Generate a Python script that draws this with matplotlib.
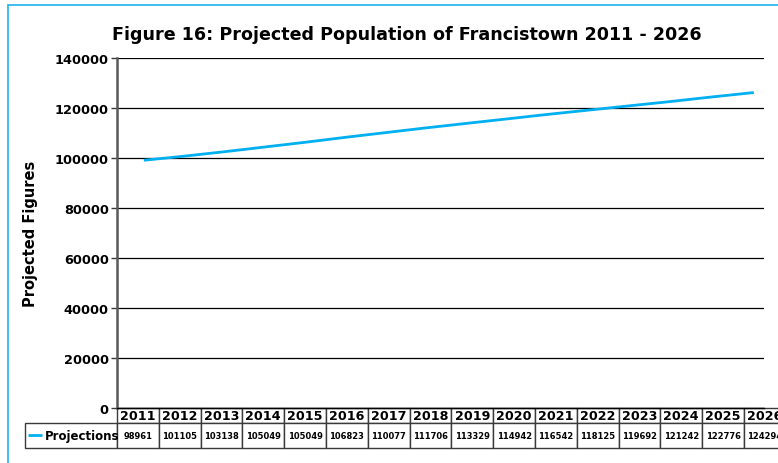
"""
Projected population of Francistown 2011 - 2026, line chart with data table.
"""

import matplotlib

matplotlib.use("Agg")

import matplotlib.pyplot as plt
from matplotlib.patches import Rectangle

# categories and values
YEARS = ["2011", "2012", "2013", "2014", "2015", "2016", "2017", "2018",
         "2019", "2020", "2021", "2022", "2023", "2024", "2025", "2026"]

# numbers printed in the data table
TABLE_VALUES = [98961, 101105, 103138, 105049, 105049, 106823, 110077, 111706,
                113329, 114942, 116542, 118125, 119692, 121242, 122776, 124294]

# the plotted line (it does not follow the table exactly)
LINE_VALUES = [98960, 100600, 102400, 104300, 106200, 108200, 110100, 112000,
               113800, 115600, 117400, 119100, 120800, 122500, 124300, 126000]

Y_TICKS = [0, 20000, 40000, 60000, 80000, 100000, 120000, 140000]

SERIES_NAME = "Projections"
TITLE = "Figure 16: Projected Population of Francistown 2011 - 2026"
Y_LABEL = "Projected Figures"

LINE_COLOR = "#00B0F0"
FRAME_COLOR = "#1DB2EE"
EDGE_COLOR = "#3A3A3A"
FONT = "DejaVu Sans"

W, H = 778, 464
DPI = 100


def px_x(x):
    return x / W


def px_y(y):
    return 1 - y / H


def main():
    plt.rcParams["font.family"] = FONT

    fig = plt.figure(figsize=(W / DPI, H / DPI), dpi=DPI)
    fig.patch.set_facecolor("white")

    # chart-area border (only left/top are visible inside the crop)
    fig.add_artist(Rectangle((px_x(8), -0.1), 1.2, px_y(6) + 0.1,
                             transform=fig.transFigure, fill=False,
                             edgecolor=FRAME_COLOR, linewidth=1.2))

    left, right, top, bottom = 117, 764, 58.5, 409
    ax = fig.add_axes([px_x(left), px_y(bottom),
                       (right - left) / W, (bottom - top) / H])
    ax_w = right - left
    ax_h = bottom - top

    xs = list(range(len(YEARS)))
    (line,) = ax.plot(xs, LINE_VALUES, color=LINE_COLOR, linewidth=2.0,
                      solid_capstyle="butt", label=SERIES_NAME, zorder=3)

    ax.set_ylim(0, 140000)
    ax.set_xlim(-0.66, 15.25)
    ax.set_yticks(Y_TICKS)
    ax.set_yticklabels([str(v) for v in Y_TICKS], fontsize=9.3,
                       fontweight="bold")
    ax.set_xticks([])
    ax.tick_params(axis="y", length=4, width=1, color=EDGE_COLOR, pad=2)
    ax.grid(axis="y", color="black", linewidth=0.9)
    ax.set_axisbelow(True)

    for side in ("top", "right"):
        ax.spines[side].set_visible(False)
    ax.spines["left"].set_color("#595959")
    ax.spines["left"].set_linewidth(1.8)
    ax.spines["bottom"].set_color("black")
    ax.spines["bottom"].set_linewidth(1.0)

    # title is centred on the whole chart area, not on the plot
    fig.text(px_x(407), px_y(35), TITLE, fontsize=12.6, fontweight="bold",
             ha="center", va="center")
    ax.set_ylabel(Y_LABEL, fontsize=10.5, fontweight="bold", labelpad=12)

    # data table under the axis
    label_w = 92
    col_w = 41.8
    head_h, row_h = 15, 25
    cell_text = [[""] + YEARS, [""] + [str(v) for v in TABLE_VALUES]]
    table_w = label_w + col_w * len(YEARS)
    bbox = [-label_w / ax_w, -(head_h + row_h) / ax_h,
            table_w / ax_w, (head_h + row_h) / ax_h]
    table = ax.table(cellText=cell_text,
                     colWidths=[label_w] + [col_w] * len(YEARS),
                     cellLoc="center", bbox=bbox)
    table.auto_set_font_size(False)
    for (r, c), cell in table.get_celld().items():
        cell.set_edgecolor(EDGE_COLOR)
        cell.set_linewidth(1.0)
        cell.set_height(head_h if r == 0 else row_h)
        cell.get_text().set_fontweight("bold")
        cell.get_text().set_fontsize(9.2 if r == 0 else 6)
        if r == 0 and c == 0:
            cell.visible_edges = ""
    table.set_clip_on(False)

    # series key inside the table's label cell
    ax.legend(handles=[line], labels=[SERIES_NAME], loc="center left",
              bbox_to_anchor=((-label_w + 3) / ax_w,
                              -(head_h + row_h / 2) / ax_h),
              frameon=False, handlelength=1.2, handletextpad=0.2,
              borderpad=0, borderaxespad=0,
              prop={"weight": "bold", "size": 8.5})

    fig.savefig("out.png", dpi=DPI)
    plt.close(fig)


if __name__ == "__main__":
    main()
